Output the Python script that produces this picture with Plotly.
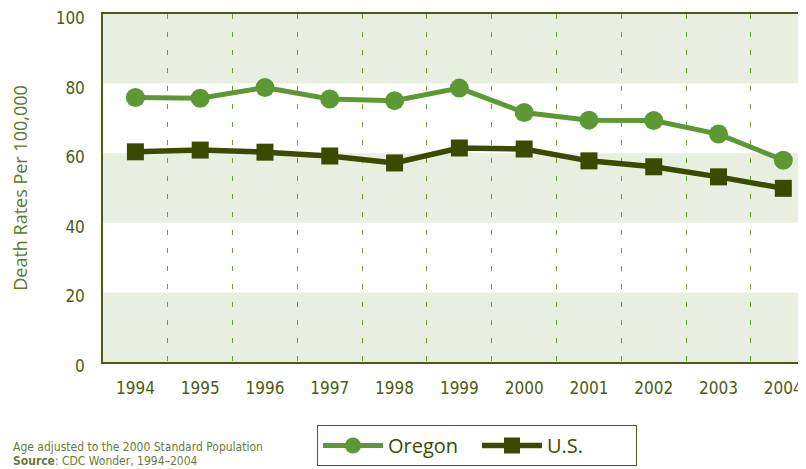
import plotly.graph_objects as go

years = ["1994", "1995", "1996", "1997", "1998", "1999", "2000", "2001", "2002", "2003", "2004"]
oregon = [76.0, 75.8, 78.9, 75.6, 75.1, 78.7, 71.7, 69.5, 69.4, 65.5, 58.0]
us = [60.4, 60.9, 60.3, 59.2, 57.2, 61.5, 61.2, 57.8, 56.1, 53.2, 49.9]
y_ticks = [0, 20, 40, 60, 80, 100]
bands = [(0, 20), (40, 60), (80, 100)]

OREGON_C = "#5c9935"
US_C = "#3c4a00"
AXIS_C = "#4d5c12"
COND = "Liberation Sans Narrow, DejaVu Sans Condensed, sans-serif"

# page body has an 8px margin; figure sized so it ends at the window edge
W, H = 798, 461
L, T, B = 95, 6, 107
PH = H - T - B
PW = W - L

fig = go.Figure()
fig.add_trace(go.Scatter(x=years, y=oregon, name="Oregon", mode="lines+markers",
                         line=dict(color=OREGON_C, width=5),
                         marker=dict(symbol="circle", size=19, color=OREGON_C)))
fig.add_trace(go.Scatter(x=years, y=us, name="U.S.", mode="lines+markers",
                         line=dict(color=US_C, width=5.5),
                         marker=dict(symbol="square", size=17, color=US_C)))

for lo, hi in bands:
    fig.add_shape(type="rect", xref="paper", yref="y", x0=0, x1=1, y0=lo, y1=hi,
                  fillcolor="#e8efe0", line=dict(width=0), layer="below")

fig.update_layout(
    width=W, height=H,
    margin=dict(l=L, r=0, t=T, b=B, autoexpand=False),
    paper_bgcolor="white", plot_bgcolor="white",
    showlegend=True,
    legend=dict(orientation="h", x=(309 - L) / PW, y=(T + PH - 417) / PH,
                xanchor="left", yanchor="top",
                bordercolor=AXIS_C, borderwidth=1, bgcolor="white",
                font=dict(family="Open Sans, sans-serif", size=20, color=US_C),
                itemwidth=60, entrywidth=84),
    xaxis=dict(type="category", range=[-0.5, 10.35], tickson="boundaries",
               automargin=False, ticklabeloverflow="allow",
               showgrid=True, gridcolor="#6a9f3c", gridwidth=1, griddash="5px,13px",
               ticks="", showline=True, linecolor=AXIS_C, linewidth=1.5, mirror=True,
               tickfont=dict(family=COND, size=17, color=AXIS_C),
               ticklabelstandoff=10, zeroline=False),
    yaxis=dict(range=[0, 100], tickvals=y_ticks, showgrid=False, zeroline=False,
               automargin=False, ticklabeloverflow="allow",
               ticks="", showline=True, linecolor=AXIS_C, linewidth=1.5,
               tickfont=dict(family=COND, size=17, color=AXIS_C),
               ticklabelstandoff=13, ticklabelshift=4,
               title=dict(text="Death Rates Per 100,000",
                          font=dict(family="Open Sans, sans-serif", size=18, color="#5a7a2a"),
                          standoff=33)),
)

fig.add_annotation(xref="paper", yref="paper", x=(3 - L) / PW, y=(T + PH - 439) / PH,
                   xanchor="left", yanchor="middle", showarrow=False,
                   text="Age adjusted to the 2000 Standard Population",
                   font=dict(family=COND, size=12, color="#6b7a3a"))
fig.add_annotation(xref="paper", yref="paper", x=(3 - L) / PW, y=(T + PH - 453) / PH,
                   xanchor="left", yanchor="middle", showarrow=False,
                   text="<b>Source</b>: CDC Wonder, 1994–2004",
                   font=dict(family=COND, size=12, color="#6b7a3a"))

fig.write_html("out.html")
